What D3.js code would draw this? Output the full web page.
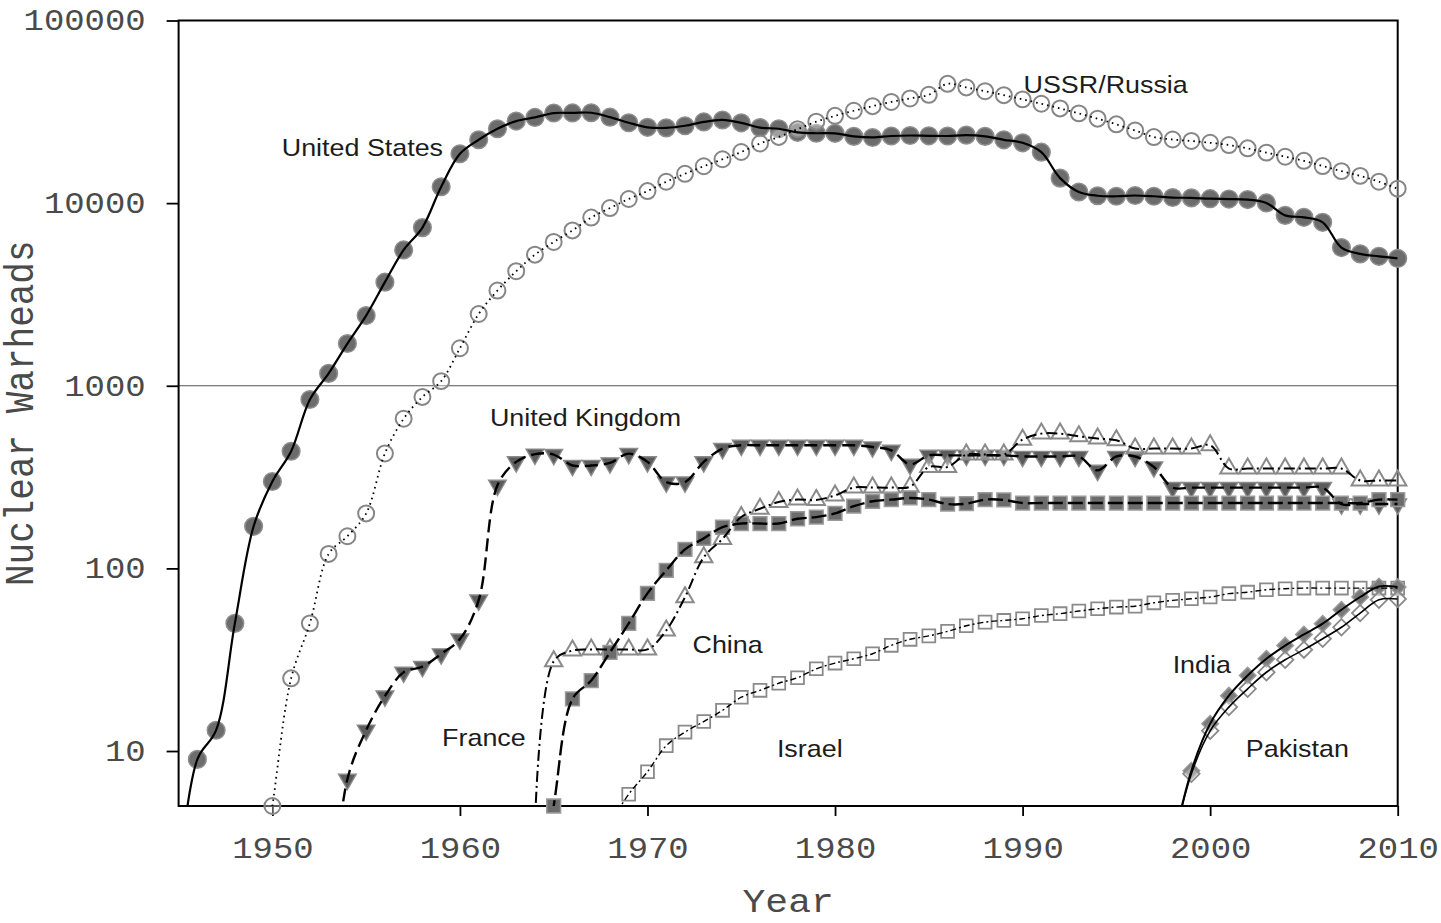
<!DOCTYPE html>
<html>
<head>
<meta charset="utf-8">
<script src="https://cdn.jsdelivr.net/npm/d3@7"></script>
<style>
  body { margin: 0; background: #fff; }
  svg { display: block; }
</style>
</head>
<body>
<svg id="chart" width="1441" height="923"></svg>
<script>
// ---------------- DATA ----------------
const xTicks = [1950, 1960, 1970, 1980, 1990, 2000, 2010];
const yTicks = [10, 100, 1000, 10000, 100000];

const usStart = 1945;
const usValues = [2, 9, 13, 50, 170, 299, 438, 841, 1169, 1703, 2422, 3692, 5543, 7345, 12298,
  18638, 22229, 25540, 28133, 29463, 31139, 31175, 31255, 29561, 27552, 26008, 25830, 26516,
  27835, 28537, 27519, 25914, 25542, 24418, 24138, 24104, 23208, 22886, 23305, 23459, 23368,
  23317, 23575, 23205, 22217, 21392, 19008, 13708, 11511, 10979, 10904, 11011, 10903, 10732,
  10685, 10577, 10526, 10457, 10027, 8570, 8360, 7853, 5709, 5273, 5113, 4980];

const ussrStart = 1949;
const ussrValues = [1, 5, 25, 50, 120, 150, 200, 426, 660, 869, 1060, 1605, 2471, 3322, 4238,
  5221, 6129, 7089, 8339, 9399, 10538, 11643, 13092, 14478, 15915, 17385, 19055, 21205, 23044,
  25393, 27935, 30062, 32049, 33952, 35804, 37431, 39197, 45000, 43000, 41000, 39000, 37000,
  35000, 33000, 31000, 29000, 27000, 25000, 23000, 22300, 21900, 21400, 20800, 19950, 18900,
  17950, 17050, 15950, 14970, 14100, 13100, 12000];

const ukStart = 1953;
const ukValues = [1, 7, 13, 20, 27, 29, 34, 41, 67, 285, 383, 422, 420, 366, 366, 378, 425, 383,
  297, 297, 383, 453, 472, 472, 472, 472, 472, 472, 472, 462, 443, 371, 416, 416, 416, 416, 416,
  410, 410, 410, 410, 344, 410, 410, 359, 277, 277, 277, 277, 277, 277, 277, 277, 277, 225, 225,
  225, 225];

const franceStart = 1964;
const franceValues = [4, 31, 35.5, 36, 36, 36, 36, 45.7, 69.6, 115, 145, 191, 212, 231, 238, 237,
  251, 277, 277, 277, 280, 359, 359, 420, 420, 420, 507, 547, 547, 529, 514, 503, 453, 453, 453,
  453, 472, 352, 352, 352, 352, 352, 352, 352, 303, 303, 303];

const chinaStart = 1964;
const chinaValues = [1, 5, 19.3, 24.3, 34.7, 50, 73, 97.5, 127, 146, 168, 176, 176, 176, 187, 191,
  200, 219, 233, 238, 243, 238, 225, 226, 238, 237, 228, 228, 228, 228, 228, 228, 228, 228, 228,
  228, 228, 228, 228, 228, 228, 228, 228, 228, 228, 238, 238];

const israelStart = 1968;
const israelValues = [4, 5.8, 7.7, 10.7, 12.7, 14.5, 16.7, 19.7, 21.5, 23.5, 25.2, 28.2, 30.3, 32,
  34.1, 37.9, 40.9, 42.7, 45.2, 48.5, 50.8, 51.9, 53, 55.2, 56.5, 58.4, 60.1, 61.4, 62.1, 64.8,
  66.8, 68.2, 69.7, 72.7, 74.1, 76.4, 77.4, 78, 78, 78, 78, 78, 78];

const indiaStart = 1998;
const indiaValues = [3, 7.8, 14.1, 20.1, 25.9, 32, 37.8, 43.5, 49.8, 59.4, 69.7, 79.6, 79];

const pakistanStart = 1998;
const pakistanValues = [3, 7.5, 12.9, 17.4, 21.9, 27, 31.6, 35.9, 41.2, 47.6, 56.9, 67.4, 68];

const labels = [
  { text: "United States", year: 1950.5, value: 18100 },
  { text: "USSR/Russia", year: 1990.05, value: 40100 },
  { text: "United Kingdom", year: 1961.6, value: 602 },
  { text: "France", year: 1959.05, value: 10.6 },
  { text: "China", year: 1972.4, value: 34.4 },
  { text: "Israel", year: 1976.9, value: 9.3 },
  { text: "India", year: 1998.0, value: 26.7 },
  { text: "Pakistan", year: 2001.9, value: 9.3 }
];

// ---------------- LAYOUT ----------------
const svg = d3.select("#chart");
const X0 = 178.6, X1 = 1397.7, Y0 = 20.5, Y1 = 806;
const SX = 1.12;   // horizontal stretch of the reference's text
const SXT = 1.15;  // stretch of tick labels
const mono = "'Liberation Mono', 'Courier New', monospace";

const x = d3.scaleLinear().domain([1945, 2010]).range([X0, X1]);
const y = d3.scaleLog().domain([5, 100000]).range([Y1, Y0]);

svg.append("rect").attr("width", 1441).attr("height", 923).attr("fill", "#fff");

svg.append("defs").append("clipPath").attr("id", "plotclip")
  .append("rect").attr("x", X0).attr("y", Y0).attr("width", X1 - X0).attr("height", Y1 - Y0);

// reference line at 1000
svg.append("line")
  .attr("x1", X0).attr("x2", X1).attr("y1", y(1000)).attr("y2", y(1000))
  .attr("stroke", "#555").attr("stroke-width", 1.2);

// ---------------- AXES ----------------
const xAxis = svg.append("g").attr("transform", `translate(0,${Y1})`)
  .call(d3.axisBottom(x).tickValues(xTicks).tickFormat(d3.format("d")).tickSize(10).tickPadding(21));
xAxis.select(".domain").remove();
xAxis.selectAll(".tick line").attr("stroke", "#000").attr("stroke-width", 1.8);
xAxis.selectAll(".tick text")
  .attr("font-family", mono)
  .attr("font-size", 29.5).attr("fill", "#4a4a4a")
  .attr("transform", `scale(${SXT},1)`);

const yAxis = svg.append("g").attr("transform", `translate(${X0},0)`)
  .call(d3.axisLeft(y).tickValues(yTicks).tickFormat(d3.format("d")).tickSize(12).tickPadding(20));
yAxis.select(".domain").remove();
yAxis.selectAll(".tick line").attr("stroke", "#000").attr("stroke-width", 1.8);
yAxis.selectAll(".tick text")
  .attr("font-family", mono)
  .attr("font-size", 29.5).attr("fill", "#4a4a4a")
  .attr("x", -33 / SXT)
  .attr("transform", `scale(${SXT},1)`);

// frame
svg.append("rect")
  .attr("x", X0).attr("y", Y0).attr("width", X1 - X0).attr("height", Y1 - Y0)
  .attr("fill", "none").attr("stroke", "#000").attr("stroke-width", 2);

// axis titles
svg.append("text")
  .attr("transform", `translate(${(X0 + X1) / 2},912) scale(${SX},1)`)
  .attr("text-anchor", "middle")
  .attr("font-family", mono)
  .attr("font-size", 34).attr("fill", "#4a4a4a")
  .text("Year");

svg.append("text")
  .attr("transform", `translate(33,${(Y0 + Y1) / 2}) scale(${SX},1) rotate(-90)`)
  .attr("text-anchor", "middle")
  .attr("font-family", mono)
  .attr("font-size", 36).attr("fill", "#4a4a4a")
  .text("Nuclear Warheads");

// ---------------- SERIES ----------------
function toPoints(start, values) {
  return values.map((v, i) => ({ year: start + i, value: v }));
}

const series = [
  { name: "United States", pts: toPoints(usStart, usValues), symbol: d3.symbolCircle, size: 245, rot: 0,
    fill: "#6c6c6c", stroke: "#8e8e8e", sw: 1.5, dash: null, lw: 2.2 },
  { name: "USSR/Russia", pts: toPoints(ussrStart, ussrValues), symbol: d3.symbolCircle, size: 200, rot: 0,
    fill: "#fff", fillOp: 0.35, stroke: "#868686", sw: 2, dash: "1.6,4", lw: 1.8 },
  { name: "United Kingdom", pts: toPoints(ukStart, ukValues), symbol: d3.symbolTriangle, size: 135, rot: 180,
    fill: "#5c5c5c", stroke: "#8a8a8a", sw: 1.4, dash: "13,6", lw: 2.4 },
  { name: "France", pts: toPoints(franceStart, franceValues), symbol: d3.symbolTriangle, size: 130, rot: 0,
    fill: "#fff", fillOp: 0.35, stroke: "#8a8a8a", sw: 2, dash: "11,4,2,4", lw: 2 },
  { name: "China", pts: toPoints(chinaStart, chinaValues), symbol: d3.symbolSquare, size: 190, rot: 0,
    fill: "#6c6c6c", stroke: "#9a9a9a", sw: 1.5, dash: "15,5", lw: 2.4 },
  { name: "Israel", pts: toPoints(israelStart, israelValues), symbol: d3.symbolSquare, size: 165, rot: 0,
    fill: "#fff", fillOp: 0.35, stroke: "#8a8a8a", sw: 1.8, dash: "6,3,2,3", lw: 1.4 },
  { name: "India", pts: toPoints(indiaStart, indiaValues), symbol: d3.symbolSquare, size: 135, rot: 45,
    fill: "#7a7a7a", stroke: "#9a9a9a", sw: 1.5, dash: null, lw: 2 },
  { name: "Pakistan", pts: toPoints(pakistanStart, pakistanValues), symbol: d3.symbolSquare, size: 135, rot: 45,
    fill: "#fff", fillOp: 0.35, stroke: "#8a8a8a", sw: 1.8, dash: null, lw: 1.6 }
];

const line = d3.line()
  .x(d => x(d.year))
  .y(d => y(d.value))
  .curve(d3.curveCatmullRom.alpha(0.5));

const markerLayer = svg.append("g");
const lineLayer = svg.append("g").attr("clip-path", "url(#plotclip)");

series.forEach(s => {
  markerLayer.append("g")
    .selectAll("path")
    .data(s.pts.filter(d => d.value >= y.domain()[0]))
    .join("path")
    .attr("d", d3.symbol().type(s.symbol).size(s.size))
    .attr("transform", d => `translate(${x(d.year)},${y(d.value)}) rotate(${s.rot})`)
    .attr("fill", s.fill)
    .attr("fill-opacity", s.fillOp == null ? 1 : s.fillOp)
    .attr("stroke", s.stroke)
    .attr("stroke-width", s.sw);

  lineLayer.append("path")
    .datum(s.pts)
    .attr("d", line)
    .attr("fill", "none")
    .attr("stroke", "#000")
    .attr("stroke-width", s.lw)
    .attr("stroke-dasharray", s.dash);
});

// ---------------- LABELS ----------------
svg.append("g").selectAll("text")
  .data(labels)
  .join("text")
  .attr("transform", d => `translate(${x(d.year)},${y(d.value)}) scale(${SX},1)`)
  .attr("font-family", "'Liberation Sans', Arial, sans-serif")
  .attr("font-size", 24)
  .attr("fill", "#1c1c1c")
  .text(d => d.text);
</script>
</body>
</html>
